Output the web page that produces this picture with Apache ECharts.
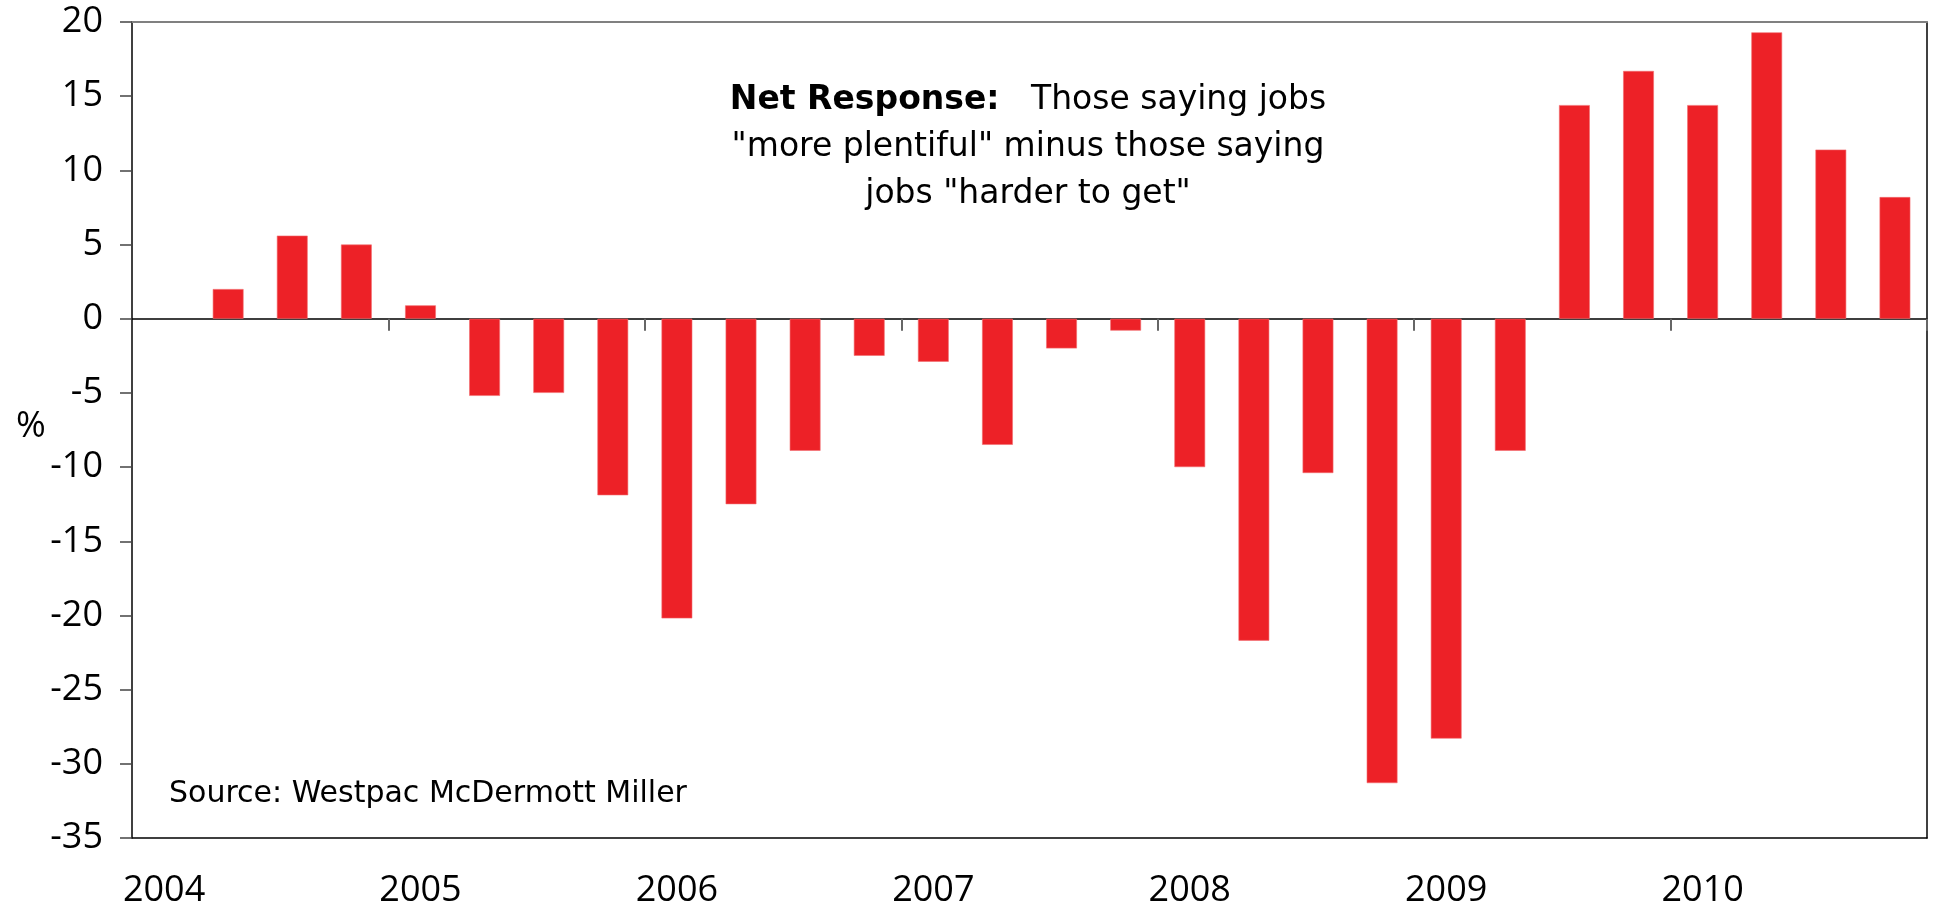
<!DOCTYPE html>
<html>
<head>
<meta charset="utf-8">
<title>Net Response – Westpac McDermott Miller</title>
<script src="https://cdn.jsdelivr.net/npm/echarts@6/dist/echarts.min.js"></script>
<style>
  html, body { margin: 0; padding: 0; background: #ffffff; }
  #chart { width: 1934px; height: 911px; }
</style>
</head>
<body>
<div id="chart"></div>
<script>
// Quarterly categories, 2004 Q1 – 2010 Q4
const years = ['2004', '2005', '2006', '2007', '2008', '2009', '2010'];
const quarters = ['Q1', 'Q2', 'Q3', 'Q4'];

// Net response (%): "more plentiful" minus "harder to get"
const netResponse = [
  null, 2.0, 5.6, 5.0,
  0.9, -5.2, -5.0, -11.9,
  -20.2, -12.5, -8.9, -2.5,
  -2.9, -8.5, -2.0, -0.8,
  -10.0, -21.7, -10.4, -31.3,
  -28.3, -8.9, 14.4, 16.7,
  14.4, 19.3, 11.4, 8.2
];

// Value axis range
const yMin = -35;
const yMax = 20;
const yStep = 5;

const categories = [];
years.forEach(y => quarters.forEach(q => categories.push(y + ' ' + q)));

const FONT = 'Open Sans';
const NOTE_FONT = 'DejaVu Sans';
const chart = echarts.init(document.getElementById('chart'), null, { renderer: 'canvas' });

const hidden = { show: false };

chart.setOption({
  backgroundColor: '#ffffff',
  animation: false,
  title: {
    left: 1023,
    top: 72,
    textAlign: 'center',
    text: '{b|Net Response:}{n|   Those saying jobs}\n{n|"more plentiful" minus those saying}\n{n|jobs "harder to get"}',
    textStyle: {
      fontWeight: 'normal',
      rich: {
        b: { fontFamily: NOTE_FONT, fontSize: 33, fontWeight: 'bold', color: '#000', lineHeight: 47 },
        n: { fontFamily: NOTE_FONT, fontSize: 33, fontWeight: 'normal', color: '#000', lineHeight: 47 }
      }
    }
  },
  graphic: [
    {
      type: 'text',
      left: 169,
      top: 779,
      style: { text: 'Source: Westpac McDermott Miller', font: '30px "DejaVu Sans"', fill: '#000' }
    },
    {
      type: 'text',
      left: 16,
      top: 409,
      style: { text: '%', font: '36px "Open Sans"', fill: '#000' }
    }
  ],
  grid: { left: 132, right: 7, top: 22, bottom: 73, containLabel: false },
  xAxis: [
    {
      // bottom frame with year labels
      type: 'category',
      position: 'bottom',
      data: categories,
      boundaryGap: true,
      axisLine: { show: true, onZero: false, lineStyle: { color: '#000', width: 1.5 } },
      axisTick: hidden,
      splitLine: hidden,
      axisLabel: {
        show: true,
        interval: (i) => i % 4 === 0,
        formatter: (v) => v.split(' ')[0],
        margin: 35,
        fontFamily: FONT,
        fontSize: 36,
        color: '#000'
      }
    },
    {
      // top frame
      type: 'category',
      position: 'top',
      data: categories,
      axisLine: { show: true, onZero: false, lineStyle: { color: '#808080', width: 2 } },
      axisTick: hidden,
      axisLabel: hidden,
      splitLine: hidden
    },
    {
      // zero line with year-boundary ticks
      type: 'category',
      position: 'bottom',
      data: categories,
      boundaryGap: true,
      axisLine: { show: true, onZero: true, lineStyle: { color: '#000', width: 1.5 } },
      axisTick: {
        show: true,
        alignWithLabel: false,
        interval: (i) => i % 4 === 0 && i > 0,
        length: 12,
        lineStyle: { color: '#666', width: 2 }
      },
      axisLabel: hidden,
      splitLine: hidden
    }
  ],
  yAxis: [
    {
      type: 'value',
      position: 'left',
      min: yMin,
      max: yMax,
      interval: yStep,
      axisLine: { show: true, onZero: false, lineStyle: { color: '#000', width: 1.5 } },
      axisTick: { show: true, inside: false, length: 12, lineStyle: { color: '#444', width: 1.5 } },
      splitLine: hidden,
      axisLabel: {
        margin: 29,
        fontFamily: FONT,
        fontSize: 36,
        color: '#000'
      }
    },
    {
      // right frame
      type: 'value',
      position: 'right',
      min: yMin,
      max: yMax,
      interval: yStep,
      axisLine: { show: true, onZero: false, lineStyle: { color: '#000', width: 1.5 } },
      axisTick: hidden,
      axisLabel: hidden,
      splitLine: hidden
    }
  ],
  series: [
    {
      type: 'bar',
      xAxisIndex: 0,
      yAxisIndex: 0,
      data: netResponse,
      barWidth: '48%',
      itemStyle: { color: '#ED2127', borderColor: '#F26C6F', borderWidth: 0.6 },
      z: 1
    }
  ]
});
</script>
</body>
</html>
